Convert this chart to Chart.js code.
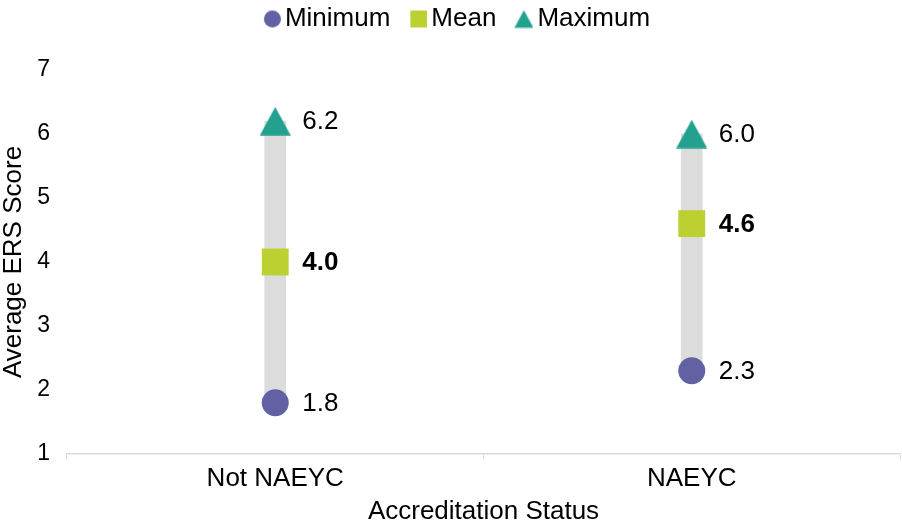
<!DOCTYPE html>
<html>
<head>
<meta charset="utf-8">
<script src="https://cdn.jsdelivr.net/npm/chart.js@4"></script>
<style>
  html, body { margin: 0; padding: 0; background: #fff; overflow: hidden; }
  #wrap { width: 902px; height: 523px; }
  canvas { display: block; }
</style>
</head>
<body>
<div id="wrap"><canvas id="myChart"></canvas></div>
<script>
// data
var categories = ['Not NAEYC', 'NAEYC'];
var minValues = [1.8, 2.3];
var meanValues = [4.0, 4.6];
var maxValues = [6.2, 6.0];
var yTicks = [1, 2, 3, 4, 5, 6, 7];

var FONT = "'Liberation Sans', Arial, sans-serif";
var PURPLE = '#6261a3', LIME = '#bdd031', TEAL = '#22a18e';

// min-max range bars
var ranges = categories.map(function (c, i) { return [minValues[i], maxValues[i]]; });

// small canvas markers (triangle centred on its box, legend icons)
function marker(kind, color, w, h, mw) {
  var c = document.createElement('canvas');
  c.width = w; c.height = h;
  var g = c.getContext('2d');
  var x0 = w - mw; // marker sits at the right of the icon
  var cy = h / 2;
  g.fillStyle = color;
  g.beginPath();
  if (kind === 'circle') {
    g.arc(x0 + mw / 2, cy, mw / 2, 0, Math.PI * 2);
  } else if (kind === 'rect') {
    g.rect(x0, cy - mw / 2, mw, mw);
  } else {
    var th = mw * 0.92;
    g.moveTo(x0 + mw / 2, cy - th / 2);
    g.lineTo(x0 + mw, cy + th / 2);
    g.lineTo(x0, cy + th / 2);
    g.closePath();
  }
  g.fill();
  return c;
}
var triPoint = marker('tri', TEAL, 31, 29, 31);
var legendIcons = {
  Minimum: marker('circle', PURPLE, 40, 19, 17),
  Mean: marker('rect', LIME, 40, 19, 17),
  Maximum: marker('tri', TEAL, 40, 19, 19)
};

// value labels next to the markers
var valueLabels = {
  id: 'valueLabels',
  afterDatasetsDraw: function (chart) {
    var ctx = chart.ctx;
    ctx.save();
    ctx.fillStyle = '#000';
    ctx.textAlign = 'left';
    ctx.textBaseline = 'middle';
    chart.data.datasets.forEach(function (ds, di) {
      if (ds.type !== 'line') return;
      var meta = chart.getDatasetMeta(di);
      ctx.font = (ds.label === 'Mean' ? 'bold ' : '') + '26px ' + FONT;
      meta.data.forEach(function (pt, i) {
        ctx.fillText(ds.data[i].toFixed(1), pt.x + 27, pt.y + 1);
      });
    });
    ctx.restore();
  }
};

// leave room between legend and plot
var legendGap = {
  id: 'legendGap',
  beforeInit: function (chart) {
    var fit = chart.legend.fit;
    chart.legend.fit = function () {
      fit.call(this);
      this.height += 28;
    };
  }
};

var ctx = document.getElementById('myChart');
var myChart = new Chart(ctx, {
  data: {
    labels: categories,
    datasets: [
      {
        type: 'bar',
        label: 'Range',
        data: ranges,
        backgroundColor: '#dcdcdc',
        barThickness: 21,
        order: 4
      },
      {
        type: 'line',
        label: 'Minimum',
        data: minValues,
        showLine: false,
        pointStyle: 'circle',
        pointRadius: 13.5,
        pointHoverRadius: 13.5,
        backgroundColor: PURPLE,
        borderWidth: 0,
        order: 1
      },
      {
        type: 'line',
        label: 'Mean',
        data: meanValues,
        showLine: false,
        pointStyle: 'rect',
        pointRadius: 19,
        pointHoverRadius: 19,
        backgroundColor: LIME,
        borderWidth: 0,
        order: 2
      },
      {
        type: 'line',
        label: 'Maximum',
        data: maxValues,
        showLine: false,
        pointStyle: triPoint,
        pointRadius: 15,
        backgroundColor: TEAL,
        borderWidth: 0,
        order: 3
      }
    ]
  },
  options: {
    responsive: true,
    maintainAspectRatio: false,
    animation: false,
    layout: { autoPadding: false, padding: { top: 0, right: 2, bottom: 0, left: 0 } },
    plugins: {
      tooltip: { enabled: false },
      legend: {
        position: 'top',
        labels: {
          usePointStyle: true,
          boxWidth: 22,
          boxHeight: 19,
          padding: 6,
          color: '#000',
          font: { family: FONT, size: 26 },
          generateLabels: function (chart) {
            var items = Chart.defaults.plugins.legend.labels.generateLabels(chart);
            return items.filter(function (it) { return it.text !== 'Range'; })
              .map(function (it) { it.pointStyle = legendIcons[it.text]; return it; });
          }
        }
      }
    },
    scales: {
      x: {
        offset: true,
        grid: {
          offset: true,
          drawOnChartArea: false,
          drawTicks: true,
          tickLength: 5,
          color: '#d9d9d9'
        },
        border: { display: true, color: '#d9d9d9', width: 1.5 },
        ticks: { color: '#000', font: { family: FONT, size: 26 }, padding: 4.5 },
        title: {
          display: true,
          text: 'Accreditation Status',
          color: '#000',
          font: { family: FONT, size: 26, lineHeight: 1.1 },
          padding: { top: -1.8, bottom: -3 }
        }
      },
      y: {
        min: yTicks[0],
        max: yTicks[yTicks.length - 1],
        afterBuildTicks: function (axis) {
          axis.ticks = yTicks.map(function (v) { return { value: v }; });
        },
        grid: { display: false, drawTicks: false },
        border: { display: false },
        ticks: { color: '#000', font: { family: FONT, size: 23 }, padding: 17 },
        title: {
          display: true,
          text: 'Average ERS Score',
          color: '#000',
          font: { family: FONT, size: 26 },
          padding: { top: -2, bottom: -9 }
        }
      }
    }
  },
  plugins: [valueLabels, legendGap]
});
</script>
</body>
</html>
